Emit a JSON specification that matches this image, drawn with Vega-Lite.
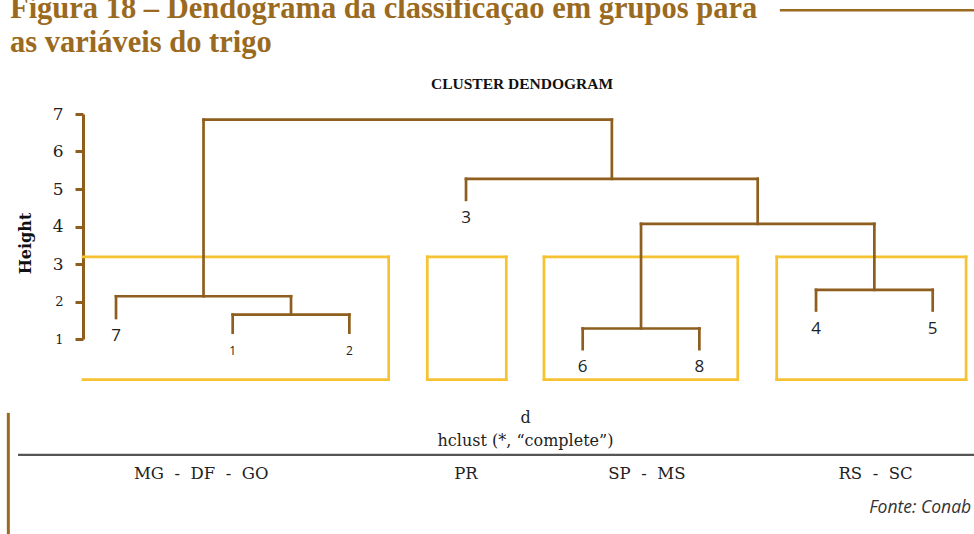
{
  "$schema": "https://vega.github.io/schema/vega-lite/v6.json",
  "width": 891,
  "height": 225,
  "autosize": {"type": "none"},
  "padding": {"left": 83, "top": 114, "right": 0, "bottom": 195},
  "background": "white",
  "config": {"view": {"stroke": null}, "axis": {"grid": false}},
  "datasets": {
    "segments": [
      {"x1": 2, "x2": 3, "y1": 1.65, "y2": 1.65},
      {"x1": 1, "x2": 2.5, "y1": 2.14, "y2": 2.14},
      {"x1": 5, "x2": 6, "y1": 1.28, "y2": 1.28},
      {"x1": 7, "x2": 8, "y1": 2.31, "y2": 2.31},
      {"x1": 5.5, "x2": 7.5, "y1": 4.07, "y2": 4.07},
      {"x1": 4, "x2": 6.5, "y1": 5.27, "y2": 5.27},
      {"x1": 1.75, "x2": 5.25, "y1": 6.85, "y2": 6.85},
      {"x1": 2, "x2": 2, "y1": 1.17, "y2": 1.65},
      {"x1": 3, "x2": 3, "y1": 1.17, "y2": 1.65},
      {"x1": 1, "x2": 1, "y1": 1.56, "y2": 2.14},
      {"x1": 2.5, "x2": 2.5, "y1": 1.65, "y2": 2.14},
      {"x1": 5, "x2": 5, "y1": 0.73, "y2": 1.28},
      {"x1": 6, "x2": 6, "y1": 0.73, "y2": 1.28},
      {"x1": 7, "x2": 7, "y1": 1.76, "y2": 2.31},
      {"x1": 8, "x2": 8, "y1": 1.76, "y2": 2.31},
      {"x1": 5.5, "x2": 5.5, "y1": 1.28, "y2": 4.07},
      {"x1": 7.5, "x2": 7.5, "y1": 2.31, "y2": 4.07},
      {"x1": 4, "x2": 4, "y1": 4.71, "y2": 5.27},
      {"x1": 6.5, "x2": 6.5, "y1": 4.07, "y2": 5.27},
      {"x1": 1.75, "x2": 1.75, "y1": 2.14, "y2": 6.85},
      {"x1": 5.25, "x2": 5.25, "y1": 5.27, "y2": 6.85}
    ],
    "leaves": [
      {"leaf": "7", "pos": 1, "end": 1.56},
      {"leaf": "1", "pos": 2, "end": 1.17},
      {"leaf": "2", "pos": 3, "end": 1.17},
      {"leaf": "3", "pos": 4, "end": 4.71},
      {"leaf": "6", "pos": 5, "end": 0.73},
      {"leaf": "8", "pos": 6, "end": 0.73},
      {"leaf": "4", "pos": 7, "end": 1.76},
      {"leaf": "5", "pos": 8, "end": 1.76}
    ],
    "groups": [
      {"group": "MG \u00a0-\u00a0 DF \u00a0-\u00a0 GO", "x1": 0.717, "x2": 3.337, "top": 3.19, "bottom": -0.085, "labelPos": 1.73},
      {"group": "PR", "x1": 3.668, "x2": 4.345, "top": 3.19, "bottom": -0.085, "labelPos": 4.0},
      {"group": "SP \u00a0-\u00a0 MS", "x1": 4.668, "x2": 6.329, "top": 3.19, "bottom": -0.085, "labelPos": 5.55},
      {"group": "RS \u00a0-\u00a0 SC", "x1": 6.663, "x2": 8.286, "top": 3.19, "bottom": -0.085, "labelPos": 7.51}
    ],
    "one": [{}]
  },
  "layer": [
    {
      "data": {"name": "groups"},
      "mark": {"type": "rule", "stroke": "#F6C232", "strokeWidth": 2.7, "strokeCap": "square"},
      "encoding": {
        "x": {"field": "x1", "type": "quantitative", "scale": {"domain": [0.717, 8.354], "nice": false, "zero": false}, "axis": null},
        "x2": {"field": "x2"},
        "y": {"field": "top", "type": "quantitative", "scale": {"domain": [1, 7], "nice": false, "zero": false}, "axis": null}
      }
    },
    {
      "data": {"name": "groups"},
      "mark": {"type": "rule", "stroke": "#F6C232", "strokeWidth": 2.7, "strokeCap": "square"},
      "encoding": {
        "x": {"field": "x1", "type": "quantitative", "scale": {"domain": [0.717, 8.354], "nice": false, "zero": false}, "axis": null},
        "x2": {"field": "x2"},
        "y": {"field": "bottom", "type": "quantitative", "scale": {"domain": [1, 7], "nice": false, "zero": false}, "axis": null}
      }
    },
    {
      "data": {"name": "groups"},
      "transform": [{"filter": "datum.x1 > 1"}],
      "mark": {"type": "rule", "stroke": "#F6C232", "strokeWidth": 2.7, "strokeCap": "square"},
      "encoding": {
        "x": {"field": "x1", "type": "quantitative", "scale": {"domain": [0.717, 8.354], "nice": false, "zero": false}, "axis": null},
        "y": {"field": "bottom", "type": "quantitative", "scale": {"domain": [1, 7], "nice": false, "zero": false}, "axis": null},
        "y2": {"field": "top"}
      }
    },
    {
      "data": {"name": "groups"},
      "mark": {"type": "rule", "stroke": "#F6C232", "strokeWidth": 2.7, "strokeCap": "square"},
      "encoding": {
        "x": {"field": "x2", "type": "quantitative", "scale": {"domain": [0.717, 8.354], "nice": false, "zero": false}, "axis": null},
        "y": {"field": "bottom", "type": "quantitative", "scale": {"domain": [1, 7], "nice": false, "zero": false}, "axis": null},
        "y2": {"field": "top"}
      }
    },
    {
      "data": {"name": "segments"},
      "mark": {"type": "rule", "stroke": "#8E5E1E", "strokeWidth": 2.7, "strokeCap": "square"},
      "encoding": {
        "x": {"field": "x1", "type": "quantitative", "scale": {"domain": [0.717, 8.354], "nice": false, "zero": false},
          "axis": {"orient": "bottom", "title": ["d", "hclust (*, “complete”)"], "labels": false, "ticks": false, "domain": false, "grid": false,
            "titleFont": "DejaVu Serif", "titleFontSize": 16, "titleFontWeight": "normal", "titleColor": "#222", "titlePadding": 70, "titleLineHeight": 23, "titleX": 442}},
        "x2": {"field": "x2"},
        "y": {"field": "y1", "type": "quantitative", "scale": {"domain": [1, 7], "nice": false, "zero": false},
          "axis": {"orient": "left", "values": [1, 2, 3, 4, 5, 6, 7], "title": "Height",
            "domainColor": "#8E5E1E", "domainWidth": 3, "tickColor": "#8E5E1E", "tickWidth": 3, "tickSize": 8,
            "labelPadding": 12, "labelFont": "DejaVu Serif", "labelColor": "#222", "labelFlush": false, "labelOverlap": false,
            "labelFontSize": {"condition": {"test": "datum.value <= 2", "value": 13}, "value": 17},
            "titleFont": "DejaVu Serif", "titleFontSize": 16, "titleFontWeight": "bold", "titleColor": "#111",
            "titleAngle": 270, "titleX": -58, "titleY": 129, "titleAlign": "center", "titleBaseline": "middle"}},
        "y2": {"field": "y2"}
      }
    },
    {
      "data": {"name": "leaves"},
      "mark": {"type": "text", "font": "Open Sans", "color": "#222", "baseline": "middle", "align": "center", "dy": 18,
        "fontSize": {"expr": "datum.leaf == '1' || datum.leaf == '2' ? 12 : 17"}},
      "encoding": {
        "x": {"field": "pos", "type": "quantitative", "scale": {"domain": [0.717, 8.354], "nice": false, "zero": false}, "axis": null},
        "y": {"field": "end", "type": "quantitative", "scale": {"domain": [1, 7], "nice": false, "zero": false}, "axis": null},
        "text": {"field": "leaf"}
      }
    },
    {
      "data": {"name": "groups"},
      "mark": {"type": "text", "font": "DejaVu Serif", "fontSize": 16.5, "color": "#222", "baseline": "middle", "align": "center"},
      "encoding": {
        "x": {"field": "labelPos", "type": "quantitative", "scale": {"domain": [0.717, 8.354], "nice": false, "zero": false}, "axis": null},
        "y": {"datum": -2.6, "type": "quantitative", "scale": {"domain": [1, 7], "nice": false, "zero": false}, "axis": null},
        "text": {"field": "group"}
      }
    },
    {
      "data": {"name": "one"},
      "mark": {"type": "rule", "stroke": "#555555", "strokeWidth": 2.2},
      "encoding": {
        "x": {"datum": 0.16, "type": "quantitative", "scale": {"domain": [0.717, 8.354], "nice": false, "zero": false}, "axis": null},
        "x2": {"datum": 8.36},
        "y": {"datum": -2.09, "type": "quantitative", "scale": {"domain": [1, 7], "nice": false, "zero": false}, "axis": null}
      }
    },
    {
      "data": {"name": "one"},
      "mark": {"type": "rule", "stroke": "#9B6A21", "strokeWidth": 3},
      "encoding": {
        "x": {"datum": 0.077, "type": "quantitative", "scale": {"domain": [0.717, 8.354], "nice": false, "zero": false}, "axis": null},
        "y": {"datum": -0.97, "type": "quantitative", "scale": {"domain": [1, 7], "nice": false, "zero": false}, "axis": null},
        "y2": {"datum": -4.3}
      }
    },
    {
      "data": {"name": "one"},
      "mark": {"type": "rule", "stroke": "#9B6A21", "strokeWidth": 2.5},
      "encoding": {
        "x": {"datum": 6.69, "type": "quantitative", "scale": {"domain": [0.717, 8.354], "nice": false, "zero": false}, "axis": null},
        "x2": {"datum": 8.36},
        "y": {"datum": 9.77, "type": "quantitative", "scale": {"domain": [1, 7], "nice": false, "zero": false}, "axis": null}
      }
    },
    {
      "data": {"name": "one"},
      "mark": {"type": "text", "text": ["Figura 18 – Dendograma da classificaçao em grupos para", "as variáveis do trigo"],
        "font": "Liberation Serif", "fontSize": 30.5, "fontWeight": "bold", "color": "#9B6A21", "align": "left", "baseline": "alphabetic", "lineHeight": 34},
      "encoding": {
        "x": {"datum": 0.0914, "type": "quantitative", "scale": {"domain": [0.717, 8.354], "nice": false, "zero": false}, "axis": null},
        "y": {"datum": 9.55, "type": "quantitative", "scale": {"domain": [1, 7], "nice": false, "zero": false}, "axis": null}
      }
    },
    {
      "data": {"name": "one"},
      "mark": {"type": "text", "text": "CLUSTER DENDOGRAM", "font": "Liberation Serif", "fontSize": 15.5, "fontWeight": "bold", "color": "#111", "align": "center", "baseline": "alphabetic"},
      "encoding": {
        "x": {"datum": 4.48, "type": "quantitative", "scale": {"domain": [0.717, 8.354], "nice": false, "zero": false}, "axis": null},
        "y": {"datum": 7.66, "type": "quantitative", "scale": {"domain": [1, 7], "nice": false, "zero": false}, "axis": null}
      }
    },
    {
      "data": {"name": "one"},
      "mark": {"type": "text", "text": "Fonte: Conab", "font": "Open Sans", "fontStyle": "italic", "fontSize": 17.5, "color": "#333", "align": "right", "baseline": "middle"},
      "encoding": {
        "x": {"datum": 8.33, "type": "quantitative", "scale": {"domain": [0.717, 8.354], "nice": false, "zero": false}, "axis": null},
        "y": {"datum": -3.5, "type": "quantitative", "scale": {"domain": [1, 7], "nice": false, "zero": false}, "axis": null}
      }
    }
  ],
  "resolve": {"axis": {"x": "independent", "y": "independent"}}
}
